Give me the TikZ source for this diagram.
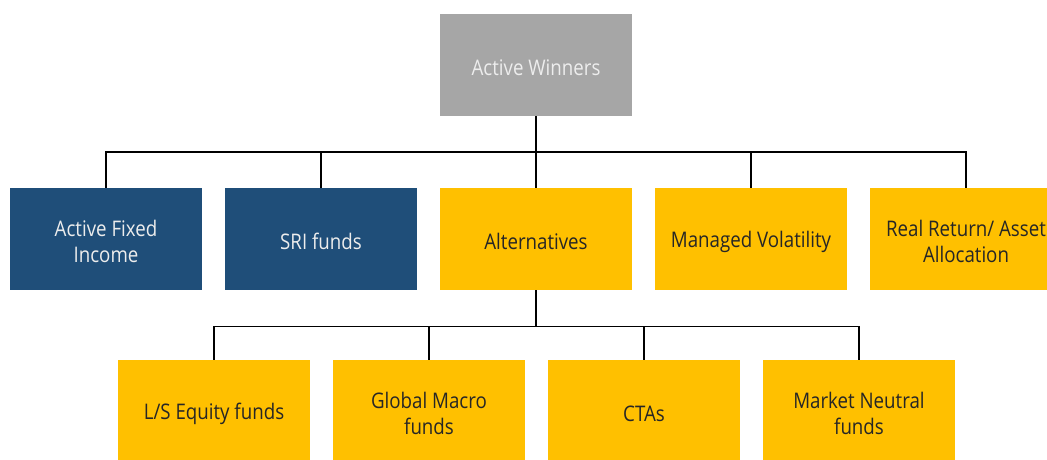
\documentclass[tikz,border=0pt]{standalone}
\usepackage{fontspec}
\setmainfont{Open Sans}[FakeStretch=0.87]
\definecolor{boxgray}{HTML}{A6A6A6}
\definecolor{boxblue}{HTML}{1F4E79}
\definecolor{boxgold}{HTML}{FFC000}
\definecolor{darktext}{HTML}{262626}
\definecolor{lighttext}{HTML}{EDEDED}
\begin{document}
\begin{tikzpicture}[x=1pt,y=-1pt,
  box/.style={minimum width=192pt,minimum height=102pt,inner sep=0pt},
  lbl/.style={align=center,inner sep=0pt,yshift=-2.5pt,
    font=\fontsize{21.5}{26.5}\selectfont},
  grayb/.style={box,fill=boxgray,label={[lbl,text=lighttext]center:#1}},
  blueb/.style={box,fill=boxblue,label={[lbl,text=lighttext]center:#1}},
  goldb/.style={box,fill=boxgold,label={[lbl,text=darktext]center:#1}},
  link/.style={draw=black,line width=1.1pt}]
\useasboundingbox (0,0) rectangle (1047,459);
\clip (0,0) rectangle (1047,459);
% root
\node[grayb={Active Winners}] (root) at (536,65) {};
% second level
\node[blueb={Active Fixed\\Income}] (afi) at (106,239) {};
\node[blueb={SRI funds}] (sri) at (321,239) {};
\node[goldb={Alternatives}] (alt) at (536,239) {};
\node[goldb={Managed Volatility}] (mv) at (751,239) {};
\node[goldb={Real Return/ Asset\\Allocation}] (rr) at (966,239) {};
% third level
\node[goldb={L/S Equity funds}] (ls) at (214,411) {};
\node[goldb={Global Macro\\funds}] (gm) at (429,411) {};
\node[goldb={CTAs}] (cta) at (644,411) {};
\node[goldb={Market Neutral\\funds}] (mn) at (859,411) {};
% bus lines
\coordinate (busA) at (536,152);
\coordinate (busB) at (536,326.5);
\draw[link,line width=1.8pt] (root.south) -- (busA);
\draw[link] (afi.north) |- (busA) -| (rr.north);
\draw[link] (sri.north) -- (sri.north |- busA);
\draw[link] (alt.north) -- (busA);
\draw[link] (mv.north) -- (mv.north |- busA);
\draw[link,line width=1.8pt] (alt.south) -- (busB);
\draw[link] (ls.north) |- (busB) -| (mn.north);
\draw[link] (gm.north) -- (gm.north |- busB);
\draw[link] (cta.north) -- (cta.north |- busB);
\end{tikzpicture}
\end{document}
